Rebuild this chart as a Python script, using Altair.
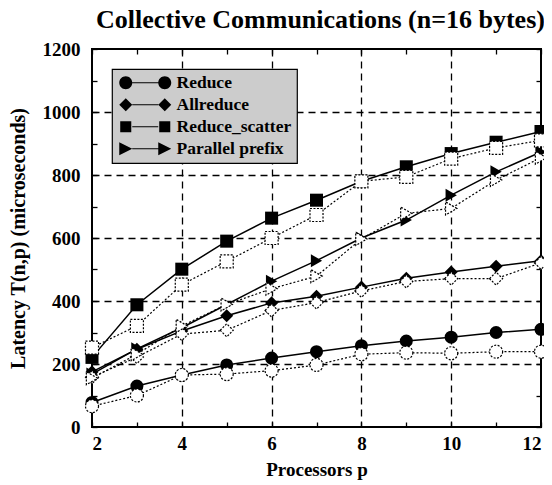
import altair as alt
import pandas as pd

procs = [2, 3, 4, 5, 6, 7, 8, 9, 10, 11, 12]
ops = ["Reduce", "Allreduce", "Reduce_scatter", "Parallel prefix"]

reduce_meas = [78, 130, 165, 197, 219, 239, 258, 273, 285, 300, 310]
reduce_model = [66, 100, 165, 168, 179, 197, 231, 236, 234, 239, 239]
allreduce_meas = [175, 247, 305, 353, 394, 415, 444, 472, 492, 510, 528]
allreduce_model = [158, 222, 295, 307, 370, 395, 432, 462, 471, 471, 521]
rscat_meas = [221, 388, 501, 590, 663, 720, 780, 826, 868, 904, 938]
rscat_model = [252, 321, 452, 526, 600, 673, 780, 794, 852, 886, 910]
prefix_meas = [168, 248, 315, 389, 463, 528, 600, 657, 736, 810, 873]
prefix_model = [155, 231, 321, 389, 439, 479, 597, 678, 694, 784, 855]

series = {
    ("Reduce", "meas"): reduce_meas,
    ("Reduce", "model"): reduce_model,
    ("Allreduce", "meas"): allreduce_meas,
    ("Allreduce", "model"): allreduce_model,
    ("Reduce_scatter", "meas"): rscat_meas,
    ("Reduce_scatter", "model"): rscat_model,
    ("Parallel prefix", "meas"): prefix_meas,
    ("Parallel prefix", "model"): prefix_model,
}
rows = []
for (op, kind), vals in series.items():
    for p, v in zip(procs, vals):
        rows.append({"p": p, "latency": v, "op": op, "kind": kind})
df = pd.DataFrame(rows)

FONT = "Liberation Serif"
point_shapes = ["circle", "diamond", "square", "triangle-right"]
LINE = "M1,-0.09H5V0.09H1Z"
legend_shapes = [
    "M-1,0A1,1 0 1,0 1,0A1,1 0 1,0 -1,0Z" + LINE + "M5,0A1,1 0 1,0 7,0A1,1 0 1,0 5,0Z",
    "M-1,0L0,-1L1,0L0,1Z" + LINE + "M5,0L6,-1L7,0L6,1Z",
    "M-0.85,-0.85H0.85V0.85H-0.85Z" + LINE + "M5.15,-0.85H6.85V0.85H5.15Z",
    "M-1,-1L1,0L-1,1Z" + LINE + "M5,-1L7,0L5,1Z",
]

xs = alt.Scale(domain=[2, 12], nice=False, zero=False)
ys = alt.Scale(domain=[0, 1200], nice=False)

base = alt.Chart(df)
meas = base.transform_filter(alt.datum.kind == "meas")
model = base.transform_filter(alt.datum.kind == "model")

no_axis_common = dict(labels=False, domain=False, title=None)

filled_lines = meas.mark_line(color="black", strokeWidth=1.5).encode(
    x=alt.X("p:Q", scale=xs, axis=alt.Axis(
        orient="bottom", values=[2, 4, 6, 8, 10, 12], tickSize=0, domain=False, grid=False,
        labelPadding=7, labelFontSize=19, labelFont=FONT, labelFontWeight="bold", labelColor="black",
        title="Processors p", titleFont=FONT, titleFontSize=19, titleFontWeight="bold",
        titleColor="black", titlePadding=7)),
    y=alt.Y("latency:Q", scale=ys, axis=alt.Axis(
        orient="left", values=list(range(0, 1201, 200)), format="d", tickSize=0, domain=False,
        grid=False, labelPadding=12, labelFontSize=19, labelFont=FONT, labelFontWeight="bold",
        labelColor="black",
        title="Latency T(n,p) (microseconds)", titleFont=FONT, titleFontSize=20,
        titleFontWeight="bold", titleColor="black", titlePadding=14)),
    detail="op:N",
)

filled_points = meas.mark_point(filled=True, color="black", size=170, opacity=1).encode(
    x=alt.X("p:Q", scale=xs, axis=alt.Axis(
        orient="bottom", values=[4, 6, 8, 10], grid=True, gridDash=[7, 5], gridColor="black",
        gridWidth=1.3, gridOpacity=1, ticks=False, **no_axis_common)),
    y=alt.Y("latency:Q", scale=ys, axis=alt.Axis(
        orient="left", values=[200, 400, 600, 800, 1000], grid=True, gridDash=[7, 5],
        gridColor="black", gridWidth=1.3, gridOpacity=1, ticks=False, **no_axis_common)),
    shape=alt.Shape("op:N", scale=alt.Scale(domain=ops, range=point_shapes), legend=None),
)

model_lines = model.mark_line(color="black", strokeWidth=1.2, strokeDash=[2, 2]).encode(
    x=alt.X("p:Q", scale=xs, axis=alt.Axis(
        orient="bottom", offset=-5, values=procs, tickSize=5, tickWidth=1.3, tickColor="black",
        grid=False, **no_axis_common)),
    y=alt.Y("latency:Q", scale=ys, axis=alt.Axis(
        orient="left", offset=-5, values=list(range(0, 1201, 100)), tickSize=5, tickWidth=1.3,
        tickColor="black", grid=False, **no_axis_common)),
    detail="op:N",
)

model_points = model.mark_point(filled=False, fill="white", fillOpacity=1, color="black",
                                strokeWidth=1.2, strokeDash=[2, 1.5], size=170, opacity=1).encode(
    x=alt.X("p:Q", scale=xs, axis=alt.Axis(
        orient="top", offset=-5, values=procs, tickSize=5, tickWidth=1.3, tickColor="black",
        grid=False, **no_axis_common)),
    y=alt.Y("latency:Q", scale=ys, axis=alt.Axis(
        orient="right", offset=-5, values=list(range(0, 1201, 100)), tickSize=5, tickWidth=1.3,
        tickColor="black", grid=False, **no_axis_common)),
    shape=alt.Shape("op:N", scale=alt.Scale(domain=ops, range=point_shapes), legend=None),
)

legend_layer = meas.mark_point(filled=True, color="black", opacity=0).encode(
    x=alt.X("p:Q", scale=xs, axis=None),
    y=alt.Y("latency:Q", scale=ys, axis=None),
    shape=alt.Shape("op:N", scale=alt.Scale(domain=ops, range=legend_shapes),
                    legend=alt.Legend(
                        title=None, orient="top-left", offset=20, fillColor="#cccccc",
                        strokeColor="black", padding=5, rowPadding=3,
                        symbolSize=169, symbolFillColor="black", symbolStrokeWidth=0,
                        symbolOpacity=1, labelOffset=42, labelFont=FONT, labelFontSize=17.5,
                        labelFontWeight="bold", labelColor="black")),
)

chart = alt.layer(
    filled_lines, filled_points, model_lines, model_points, legend_layer
).resolve_scale(shape="independent").resolve_axis(
    x="independent", y="independent"
).properties(
    width=449, height=378,
    autosize=alt.AutoSizeParams(type="none"),
    padding={"left": 84, "top": 41, "right": 3, "bottom": 60},
    title=alt.TitleParams("Collective Communications (n=16 bytes)", font=FONT, fontSize=26,
                          fontWeight="bold", color="black", anchor="middle", offset=7,
                          dx=4),
).configure_view(stroke="black", strokeWidth=2
).configure_legend(strokeWidth=1.2, cornerRadius=0)

chart.save("out.html", embed_options={"renderer": "svg", "actions": False})
